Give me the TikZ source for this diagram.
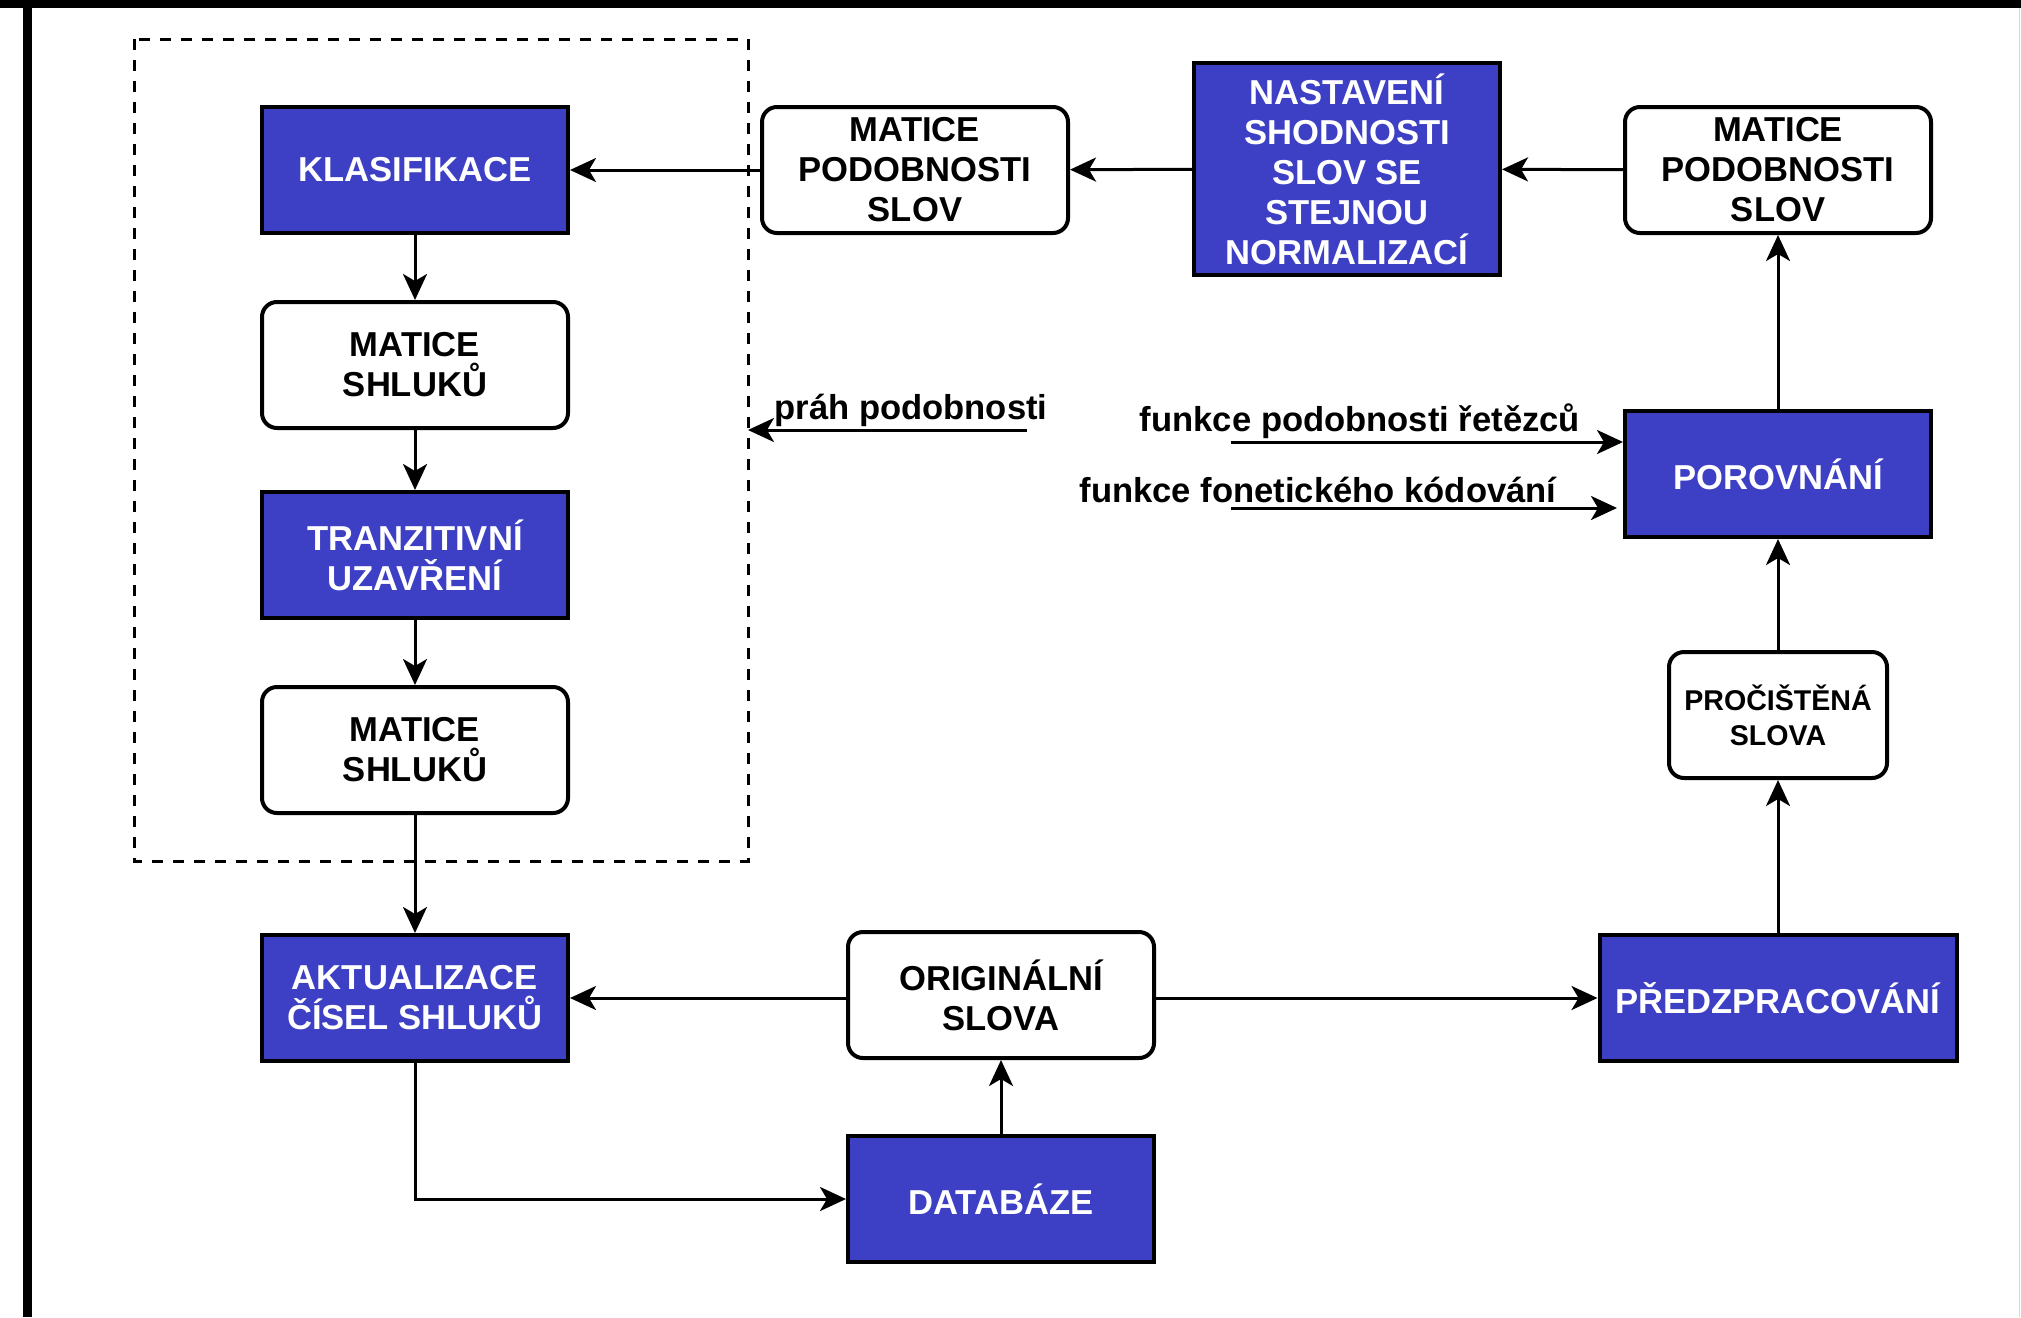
\documentclass[tikz,border=0pt]{standalone}
\usepackage{fontspec}
\setmainfont{Liberation Sans}
\usetikzlibrary{arrows.meta}
\definecolor{boxblue}{RGB}{61,64,196}
\begin{document}
\begin{tikzpicture}[x=0.5pt,y=-0.5pt,line width=1.5pt,
		font=\bfseries\fontsize{17.3}{20}\selectfont,
		arr/.style={-{Stealth[length=13pt,width=12pt,inset=3.5pt]}},
		blue box/.style={draw,line width=2pt,fill=boxblue,text=white,align=center,
			minimum width=153pt,minimum height=63pt,inner sep=2pt},
		white box/.style={draw,line width=2pt,fill=white,rounded corners=7.5pt,align=center,
			minimum width=153pt,minimum height=63pt,inner sep=2pt}]
		\useasboundingbox (0,0) rectangle (2021,1317);
		\fill (0,0) rectangle (2021,7.5);
		\fill (23,0) rectangle (32,1317);
		\draw[line width=0.5pt,black!15] (2019,7.5) -- (2019,1317);
		\draw[dash pattern=on 5.5pt off 5pt] (134,39) rectangle (748,861);
		\node[blue box] (kl) at (415,170) {KLASIFIKACE};
		\node[white box] (ms1) at (415,365) {MATICE\\SHLUKŮ};
		\node[blue box] (tu) at (415,555) {TRANZITIVNÍ\\UZAVŘENÍ};
		\node[white box] (ms2) at (415,750) {MATICE\\SHLUKŮ};
		\node[blue box] (akt) at (415,998) {AKTUALIZACE\\ČÍSEL SHLUKŮ};
		\node[blue box] (db) at (1001,1199) {DATABÁZE};
		\node[white box] (orig) at (1001,995) {ORIGINÁLNÍ\\SLOVA};
		\node[blue box,minimum width=178.5pt] (pre) at (1778,998) {PŘEDZPRACOVÁNÍ};
		\node[white box,minimum width=109pt,font=\bfseries\fontsize{14.3}{17.4}\selectfont] (proc) at (1778,715) {PROČIŠTĚNÁ\\SLOVA};
		\node[blue box] (por) at (1778,474) {POROVNÁNÍ};
		\node[white box] (mpr) at (1778,170) {MATICE\\PODOBNOSTI\\SLOV};
		\node[blue box,minimum height=106pt] (nast) at (1347,169) {NASTAVENÍ\\SHODNOSTI\\SLOV SE\\STEJNOU\\NORMALIZACÍ};
		\node[white box] (mpl) at (915,170) {MATICE\\PODOBNOSTI\\SLOV};
		\node (prah) at (911,410) {práh podobnosti};
		\node (fps) at (1360,421) {funkce podobnosti řetězců};
		\node (ffk) at (1318,490) {funkce fonetického kódování};
		\coordinate (prahs) at (1027,430);
		\coordinate (prahe) at (748,430);
		\coordinate (fpss) at (1231,442);
		\coordinate (ffks) at (1231,508);
		\draw[arr] (mpl) -- (kl);
		\draw[arr] (nast) -- (mpl);
		\draw[arr] (mpr) -- (nast);
		\draw[arr] (por) -- (mpr);
		\draw[arr] (proc) -- (por);
		\draw[arr] (pre) -- (proc);
		\draw[arr] (kl) -- (ms1);
		\draw[arr] (ms1) -- (tu);
		\draw[arr] (tu) -- (ms2);
		\draw[arr] (ms2) -- (akt);
		\draw[arr] (orig.west |- akt.east) -- (akt.east);
		\draw[arr] (orig.east |- pre.west) -- (pre.west);
		\draw[arr] (db) -- (orig);
		\draw[arr] (akt.south) |- (db.west);
		\draw[arr] (prahs) -- (prahe);
		\draw[arr] (fpss) -- (fpss -| por.west);
		\draw[arr,shorten >=3pt] (ffks) -- (ffks -| por.west);
\end{tikzpicture}
\end{document}
